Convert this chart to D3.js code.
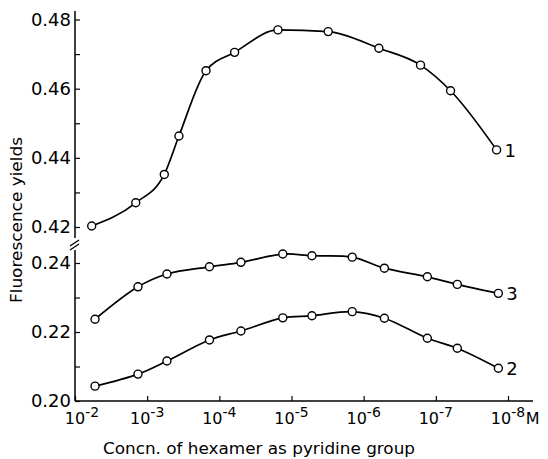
<!DOCTYPE html>
<html>
<head>
<meta charset="utf-8">
<script src="https://cdn.jsdelivr.net/npm/d3@7"></script>
<style>
  html, body { margin: 0; padding: 0; background: #fff; }
  svg { display: block; font-family: "DejaVu Sans", sans-serif; }
</style>
</head>
<body>
<svg id="chart" width="548" height="459"></svg>
<script>
// ---- data (concentration in M of hexamer as pyridine group) ----
const conc1 = [5.87e-3, 1.44e-3, 5.79e-4, 3.63e-4, 1.53e-4, 6.14e-5, 1.54e-5, 3.10e-6, 6.15e-7, 1.63e-7, 6.25e-8, 1.44e-8];
const yield1 = [0.4203, 0.4270, 0.4352, 0.4463, 0.4652, 0.4705, 0.4770, 0.4765, 0.4717, 0.4668, 0.4594, 0.4423];

const conc23 = [5.28e-3, 1.34e-3, 5.32e-4, 1.37e-4, 5.02e-5, 1.32e-5, 5.21e-6, 1.44e-6, 5.16e-7, 1.31e-7, 5.04e-8, 1.36e-8];
const yield3 = [0.2237, 0.2331, 0.2368, 0.2389, 0.2402, 0.2426, 0.2421, 0.2417, 0.2385, 0.2360, 0.2338, 0.2312];
const yield2 = [0.2043, 0.2078, 0.2116, 0.2177, 0.2203, 0.2241, 0.2247, 0.2259, 0.2240, 0.2182, 0.2153, 0.2095];

const curveNames = ["1", "2", "3"];
const decadeExps = [-2, -3, -4, -5, -6, -7, -8];
const yTicksHigh = [0.42, 0.43, 0.44, 0.45, 0.46, 0.47, 0.48];
const yTicksLow = [0.20, 0.21, 0.22, 0.23, 0.24];
const xTitle = "Concn. of hexamer as pyridine group";
const yTitle = "Fluorescence yields";

// ---- drawing ----
const svg = d3.select("#chart");
const x = d3.scaleLog().domain([1e-2, 1e-8]).range([75, 508]);
const yHigh = d3.scaleLinear().domain([0.42, 0.48]).range([227, 19.5]);
const yLow = d3.scaleLinear().domain([0.20, 0.24]).range([401, 263]);

const fmt = d3.format(".2f");
const isMajor = d => Math.round(d * 100) % 2 === 0;

function yAxis(scale, ticks, lineTop, lineBottom) {
  const g = svg.append("g").attr("transform", "translate(75,0)")
    .call(d3.axisLeft(scale).tickValues(ticks).tickSizeInner(-5).tickSizeOuter(0)
      .tickPadding(4).tickFormat(d => isMajor(d) ? fmt(d) : ""));
  g.select(".domain").remove();
  g.selectAll(".tick line").attr("stroke", "#000").attr("stroke-width", 1.2);
  g.selectAll(".tick text").attr("font-size", 18).attr("font-family", "DejaVu Sans, sans-serif").attr("fill", "#000");
  g.append("line").attr("x1", 0).attr("x2", 0).attr("y1", lineTop).attr("y2", lineBottom)
    .attr("stroke", "#000").attr("stroke-width", 1.5);
}
yAxis(yHigh, yTicksHigh, 11, 238);
yAxis(yLow, yTicksLow, 250, yLow(0.20));

// axis break marks
[0, 4].forEach(o => {
  svg.append("line").attr("x1", 70).attr("y1", 246 + o).attr("x2", 79).attr("y2", 240 + o)
    .attr("stroke", "#000").attr("stroke-width", 1.3);
});

// x axis
const xg = svg.append("g").attr("transform", `translate(0,${yLow(0.20)})`)
  .call(d3.axisBottom(x).tickValues(decadeExps.map(p => Math.pow(10, p)))
    .tickSizeInner(-5).tickSizeOuter(0).tickFormat(""));
xg.select(".domain").remove();
xg.selectAll(".tick line").attr("stroke", "#000").attr("stroke-width", 1.2);
xg.append("line").attr("x1", 75).attr("x2", 533).attr("y1", 0).attr("y2", 0)
  .attr("stroke", "#000").attr("stroke-width", 1.5);

decadeExps.forEach((p, i) => {
  const t = svg.append("text")
    .attr("x", x(Math.pow(10, p)) + (i === 0 ? 7 : 0))
    .attr("y", 424)
    .attr("text-anchor", "middle")
    .attr("font-size", 16)
    .attr("fill", "#000");
  t.append("tspan").text("10");
  t.append("tspan").attr("font-size", 14).attr("dy", -7).text("-" + (-p));
  if (i === decadeExps.length - 1) {
    const bb = t.node().getBBox();
    svg.append("text").attr("x", bb.x + bb.width + 0.5).attr("y", 424)
      .attr("font-size", 16).attr("fill", "#000").text("M");
  }
});

// axis titles
svg.append("text").attr("x", 103).attr("y", 454).attr("font-size", 16)
  .attr("textLength", 312).attr("lengthAdjust", "spacingAndGlyphs")
  .attr("fill", "#000").text(xTitle);
svg.append("text").attr("transform", "translate(22,220) rotate(-90)")
  .attr("text-anchor", "middle").attr("font-size", 15)
  .attr("textLength", 166).attr("lengthAdjust", "spacingAndGlyphs")
  .attr("fill", "#000").text(yTitle);

// series
const series = [
  { name: curveNames[0], conc: conc1, vals: yield1, y: yHigh, curve: d3.curveMonotoneX },
  { name: curveNames[1], conc: conc23, vals: yield2, y: yLow, curve: d3.curveCatmullRom.alpha(0.5) },
  { name: curveNames[2], conc: conc23, vals: yield3, y: yLow, curve: d3.curveCatmullRom.alpha(0.5) }
];

series.forEach(s => {
  const pts = s.conc.map((c, i) => [x(c), s.y(s.vals[i])]);
  const line = d3.line().curve(s.curve);
  svg.append("path").attr("d", line(pts)).attr("fill", "none")
    .attr("stroke", "#000").attr("stroke-width", 1.7);
  svg.append("g").selectAll("circle").data(pts).join("circle")
    .attr("cx", d => d[0]).attr("cy", d => d[1]).attr("r", 4)
    .attr("fill", "#fff").attr("stroke", "#000").attr("stroke-width", 1.4);
  const last = pts[pts.length - 1];
  svg.append("text").attr("x", last[0] + 8).attr("y", last[1] + 7)
    .attr("font-size", 18).attr("fill", "#000").text(s.name);
});
</script>
</body>
</html>
